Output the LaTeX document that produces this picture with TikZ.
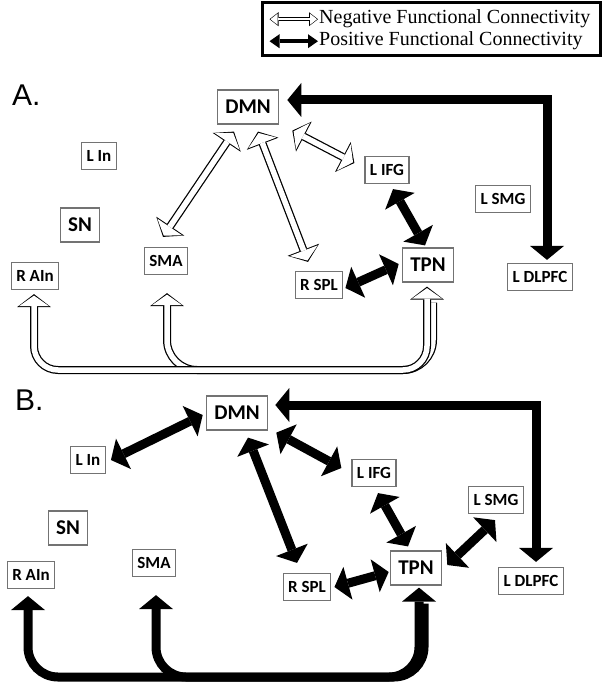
\documentclass[tikz,border=0pt]{standalone}
\usepackage{fontspec}
\setmainfont{Liberation Serif}
\newfontfamily\boxfont{Carlito}
\newfontfamily\panelfont{Liberation Sans}
\usetikzlibrary{arrows.meta,positioning}

\tikzset{
  pt/.tip={Triangle[width=34pt,length=14pt,line width=0pt]},
  nt/.tip={Triangle[width=21pt 1.6,length=5pt 1,sep=4.8pt -0.6,line width=0pt]},
  lpt/.tip={Triangle[width=14pt,length=10pt,line width=0pt]},
  lnt/.tip={Triangle[width=7.25pt 1.5,length=4.5pt 1,sep=2.25pt -0.5,line width=0pt]},
  region/.style={draw=black!55, line width=1.2pt, fill=white, inner xsep=5pt, inner ysep=0pt,
    minimum height=27pt, text height=11.5pt, text depth=0pt,
    font=\boxfont\bfseries\fontsize{17}{17}\selectfont},
  network/.style={region, inner xsep=8pt, minimum height=34pt, text height=13.5pt,
    font=\boxfont\bfseries\fontsize{21}{21}\selectfont},
  posfc/.style={line width=9pt},
  negfc/.style={draw=white, line width=5.5pt, preaction={draw=black, line width=8pt}},
  legpos/.style={line width=4.5pt},
  legneg/.style={draw=white, line width=2.5pt, preaction={draw=black, line width=4.5pt}},
  legtext/.style={anchor=base west, inner sep=1pt, font=\fontsize{20}{20}\selectfont},
  panel/.style={anchor=north west, inner sep=0pt, font=\panelfont\fontsize{30}{30}\selectfont}
}

\begin{document}
\begin{tikzpicture}[x=1pt,y=-1pt]
  \useasboundingbox (0,0) rectangle (604,690);

  % legend
  \node[draw, line width=3pt, minimum width=338pt, minimum height=53pt, inner sep=0pt] (legend) at (431,29) {};
  \node[legtext] (negtext) at (318,24) {Negative Functional Connectivity};
  \node[legtext] (postext) at (318,46) {Positive Functional Connectivity};
  \coordinate (negL) at (legend.west |- negtext.west);
  \coordinate (posL) at (legend.west |- postext.west);
  \draw[legneg, lnt-lnt] ([xshift=9pt]negL) -- (negtext.west);
  \draw[legpos, lpt-lpt] ([xshift=9pt]posL) -- (postext.west);

  % A: regions
  \node[panel] (labA) at (12,85) {A.};
  \node[network] (dmnA) at (248,107) {DMN};
  \node[region] (linA) at (99,156) {L In};
  \node[network] (snA) at (80,225) {SN};
  \node[region] (smaA) at (166,261) {SMA};
  \node[region] (rainA) at (35,276) {R AIn};
  \node[region] (lifgA) at (387,170) {L IFG};
  \node[region] (lsmgA) at (503,199) {L SMG};
  \node[network] (tpnA) at (428,265) {TPN};
  \node[region] (rsplA) at (319,285) {R SPL};
  \node[region] (ldlpfcA) at (540,277) {L DLPFC};

  % A: connectivity
  \draw[posfc, pt-pt] ([shift={(7,-3)}]ldlpfcA.north) |- ([shift={(8,-7)}]dmnA.east);
  \draw[negfc, nt-nt] ([shift={(-14,7)}]dmnA.south) -- ([shift={(-3,-10)}]smaA.north);
  \draw[negfc, nt-nt] ([shift={(10,7)}]dmnA.south) -- ([shift={(-11,-9)}]rsplA.north);
  \draw[negfc, nt-nt] ([shift={(13,6)}]dmnA.south east) -- ([shift={(-10,-7)}]lifgA.west);
  \draw[posfc, pt-pt] ([shift={(6,5)}]lifgA.south) -- ([shift={(-3,-2)}]tpnA.north);
  \draw[posfc, pt-pt] ([shift={(2,3)}]rsplA.east) -- ([shift={(-3,-1)}]tpnA.west);

  \coordinate (busA) at (0,370);
  \coordinate (rainAtip) at ([shift={(-1,4)}]rainA.south);
  \coordinate (smaAtip) at ([shift={(1,18)}]smaA.south);
  \coordinate (tpnAtip) at ([shift={(-1,4)}]tpnA.south);
  \coordinate (tpnAjoin) at ([shift={(6,16)}]tpnAtip);
  \draw[negfc, nt-, rounded corners=30pt] (smaAtip) -- (smaAtip |- busA) -- (tpnAjoin |- busA) -- (tpnAjoin);
  \draw[negfc, nt-nt, rounded corners=24pt] (rainAtip) -- (rainAtip |- busA) -- (tpnAtip |- busA) -- (tpnAtip);

  % B: regions
  \node[panel] (labB) at (15,390) {B.};
  \node[network] (dmnB) at (237,413) {DMN};
  \node[region] (linB) at (88,460) {L In};
  \node[network] (snB) at (68,528) {SN};
  \node[region] (smaB) at (154,563) {SMA};
  \node[region] (rainB) at (31,575) {R AIn};
  \node[region] (lifgB) at (374,473) {L IFG};
  \node[region] (lsmgB) at (496,500) {L SMG};
  \node[network] (tpnB) at (416,568) {TPN};
  \node[region] (rsplB) at (307,587) {R SPL};
  \node[region] (ldlpfcB) at (531,581) {L DLPFC};

  % B: connectivity
  \draw[posfc, pt-pt] ([shift={(7,-8)}]dmnB.east) -| ([shift={(5,-5)}]ldlpfcB.north);
  \draw[posfc, pt-pt] ([shift={(5,0)}]linB.east) -- ([shift={(-3,2)}]dmnB.west);
  \draw[posfc, pt-pt] ([shift={(11,7)}]dmnB.south) -- ([shift={(-10,-10)}]rsplB.north);
  \draw[posfc, pt-pt] ([shift={(8,2)}]dmnB.south east) -- ([shift={(-10,-5)}]lifgB.west);
  \draw[posfc, pt-pt] ([shift={(4,6)}]lifgB.south) -- ([shift={(-8,-4)}]tpnB.north);
  \draw[posfc, pt-pt] ([shift={(-1,6)}]lsmgB.south) -- ([shift={(5,-3)}]tpnB.east);
  \draw[posfc, pt-pt] ([shift={(3,0)}]rsplB.east) -- ([shift={(-1,4)}]tpnB.west);

  \coordinate (busB) at (0,677);
  \coordinate (rainBtip) at ([shift={(-3,7)}]rainB.south);
  \coordinate (smaBtip) at ([shift={(2,18)}]smaB.south);
  \coordinate (tpnBtip) at ([shift={(3,2)}]tpnB.south);
  \coordinate (tpnBjoin) at ([shift={(5,16)}]tpnBtip);
  \draw[posfc, pt-, rounded corners=30pt] (smaBtip) -- (smaBtip |- busB) -- (tpnBjoin |- busB) -- (tpnBjoin);
  \draw[posfc, pt-pt, rounded corners=30pt] (rainBtip) -- (rainBtip |- busB) -- (tpnBtip |- busB) -- (tpnBtip);
\end{tikzpicture}
\end{document}
